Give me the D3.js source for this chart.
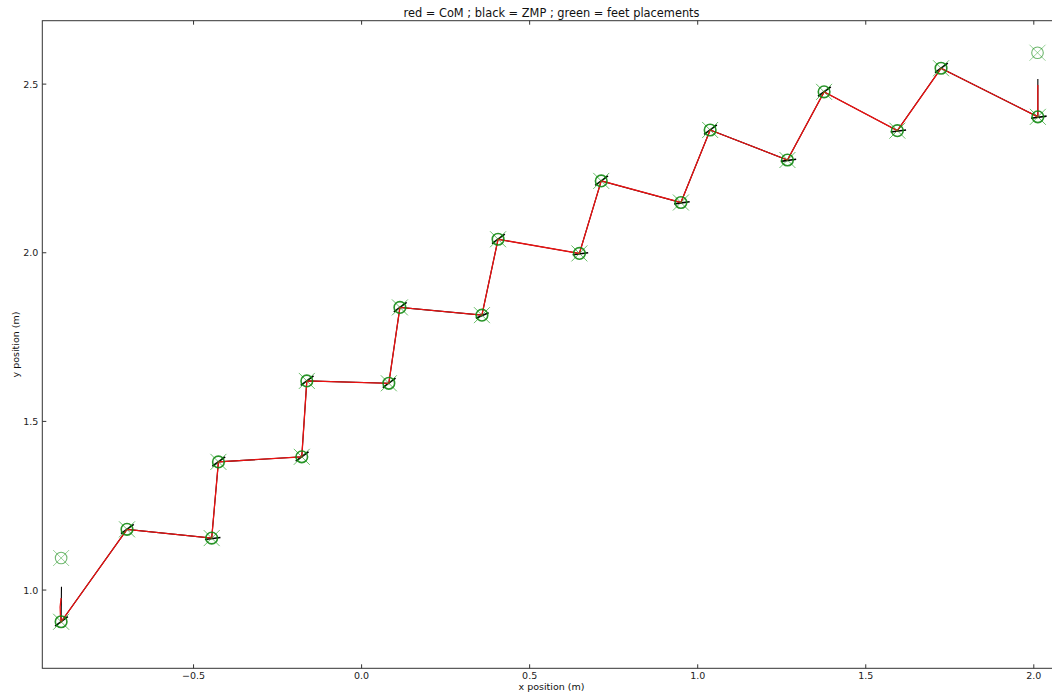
<!DOCTYPE html>
<html><head><meta charset="utf-8">
<script src="https://cdn.jsdelivr.net/npm/d3@7"></script>
<style>body{margin:0;background:#fff}svg{display:block}text{font-family:"DejaVu Sans",sans-serif}</style>
</head><body><div id="chart"></div>
<script>
// Foot placements (green)
const feetX = [-0.894,-0.698,-0.446,-0.426,-0.178,-0.163,0.081,0.114,0.358,0.406,0.648,0.713,0.950,1.037,1.267,1.376,1.594,1.724,2.012];
const feetY = [0.906,1.180,1.154,1.380,1.395,1.620,1.613,1.838,1.815,2.040,1.998,2.213,2.149,2.364,2.275,2.477,2.362,2.547,2.403];
// initial / final other foot (lighter)
const extraFeetX = [-0.894, 2.011];
const extraFeetY = [1.095, 2.593];
// CoM trajectory (red)
const comX = [-0.894,-0.897,-0.896,-0.894,-0.698,-0.446,-0.426,-0.178,-0.163,0.081,0.114,0.358,0.406,0.648,0.713,0.950,1.037,1.267,1.376,1.594,1.724,2.012,2.012];
const comY = [0.976,0.950,0.925,0.906,1.180,1.154,1.380,1.395,1.620,1.613,1.838,1.815,2.040,1.998,2.213,2.149,2.364,2.275,2.477,2.362,2.547,2.403,2.497];
// ZMP trajectory (black): jumps between feet
const zmpX = [-0.893,-0.894,-0.698,-0.446,-0.426,-0.178,-0.163,0.081,0.114,0.358,0.406,0.648,0.713,0.950,1.037,1.267,1.376,1.594,1.724,2.012,2.012];
const zmpY = [1.010,0.906,1.180,1.154,1.380,1.395,1.620,1.613,1.838,1.815,2.040,1.998,2.213,2.149,2.364,2.275,2.477,2.362,2.547,2.403,2.515];
// ZMP motion inside each support foot (short black dashes)
const dashX0 = [-0.912,-0.716,-0.466,-0.444,-0.196,-0.181,0.063,0.096,0.340,0.388,0.628,0.695,0.930,1.019,1.247,1.358,1.574,1.706,1.992];
const dashY0 = [0.893,1.167,1.150,1.367,1.382,1.607,1.600,1.825,1.806,2.027,1.994,2.200,2.145,2.351,2.271,2.464,2.358,2.534,2.399];
const dashX1 = [-0.874,-0.678,-0.420,-0.406,-0.158,-0.143,0.101,0.134,0.378,0.426,0.674,0.733,0.976,1.057,1.293,1.396,1.620,1.744,2.038];
const dashY1 = [0.921,1.195,1.156,1.395,1.410,1.635,1.628,1.853,1.822,2.055,2.000,2.228,2.151,2.379,2.277,2.492,2.364,2.562,2.405];
const xTicks = [-0.5,0.0,0.5,1.0,1.5,2.0];
const yTicks = [1.0,1.5,2.0,2.5];

const W = 1052, H = 695;
const L = 42.3, T = 20.7, R = 1060.7, B = 668.3;
const svg = d3.select("#chart").append("svg").attr("width", W).attr("height", H);
const x = d3.scaleLinear().domain([-0.95, 2.08]).range([L, R]);
const y = d3.scaleLinear().domain([0.768, 2.688]).range([B, T]);

svg.append("clipPath").attr("id","clip").append("rect")
  .attr("x", L).attr("y", T).attr("width", R-L).attr("height", B-T);
const g = svg.append("g").attr("clip-path","url(#clip)");

const line = d3.line().x(d=>x(d[0])).y(d=>y(d[1]));
const zmp = zmpX.map((v,i)=>[v, zmpY[i]]);
const com = comX.map((v,i)=>[v, comY[i]]);

g.append("path").attr("d", line(zmp)).attr("fill","none").attr("stroke","#000").attr("stroke-width",1.1);
g.selectAll("line.dash").data(dashX0).enter().append("line").attr("class","dash")
  .attr("x1",(d,i)=>x(dashX0[i])).attr("y1",(d,i)=>y(dashY0[i]))
  .attr("x2",(d,i)=>x(dashX1[i])).attr("y2",(d,i)=>y(dashY1[i]))
  .attr("stroke","#000").attr("stroke-width",1.6);
g.append("path").attr("d", line(com)).attr("fill","none").attr("stroke","#ee1111").attr("stroke-width",1.3);

function foot(px, py, strong){
  const cx = x(px), cy = y(py), s = 8;
  const gg = g.append("g");
  gg.append("path").attr("d", `M${cx-s},${cy-s}L${cx+s},${cy+s}M${cx-s},${cy+s}L${cx+s},${cy-s}`)
    .attr("stroke","#1a9a1a").attr("stroke-width",1).attr("stroke-opacity", strong?0.65:0.45);
  gg.append("circle").attr("cx",cx).attr("cy",cy).attr("r",5.8).attr("fill","none")
    .attr("stroke","#118811").attr("stroke-width", strong?1.6:1.1).attr("stroke-opacity", strong?0.9:0.6);
}
feetX.forEach((v,i)=>foot(v, feetY[i], true));
extraFeetX.forEach((v,i)=>foot(v, extraFeetY[i], false));

// axes frame
const ax = svg.append("g");
ax.append("rect").attr("x",L).attr("y",T).attr("width",R-L).attr("height",B-T)
  .attr("fill","none").attr("stroke","#333").attr("stroke-width",1);
const tl = 4;
xTicks.forEach(t=>{
  const px = x(t);
  ax.append("line").attr("x1",px).attr("x2",px).attr("y1",B).attr("y2",B-tl).attr("stroke","#333");
  ax.append("line").attr("x1",px).attr("x2",px).attr("y1",T).attr("y2",T+tl).attr("stroke","#333");
  ax.append("text").attr("x",px).attr("y",679).attr("text-anchor","middle").attr("font-size",9.5).attr("fill","#222")
    .text(d3.format(".1f")(t).replace("-","\u2212"));
});
yTicks.forEach(t=>{
  const py = y(t);
  ax.append("line").attr("x1",L).attr("x2",L+tl).attr("y1",py).attr("y2",py).attr("stroke","#333");
  ax.append("line").attr("x1",R).attr("x2",R-tl).attr("y1",py).attr("y2",py).attr("stroke","#333");
  ax.append("text").attr("x",L-4).attr("y",py+3.5).attr("text-anchor","end").attr("font-size",9.5).attr("fill","#222")
    .text(d3.format(".1f")(t));
});
svg.append("text").attr("x",(L+R)/2).attr("y",T-3.5).attr("text-anchor","middle").attr("font-size",11.4).attr("fill","#111")
  .text("red = CoM ; black = ZMP ; green = feet placements");
svg.append("text").attr("x",(L+R)/2).attr("y",690).attr("text-anchor","middle").attr("font-size",9.5).attr("fill","#111")
  .text("x position (m)");
svg.append("text").attr("transform",`translate(19,${(T+B)/2}) rotate(-90)`).attr("text-anchor","middle").attr("font-size",9.5).attr("fill","#111")
  .text("y position (m)");
</script></body></html>
